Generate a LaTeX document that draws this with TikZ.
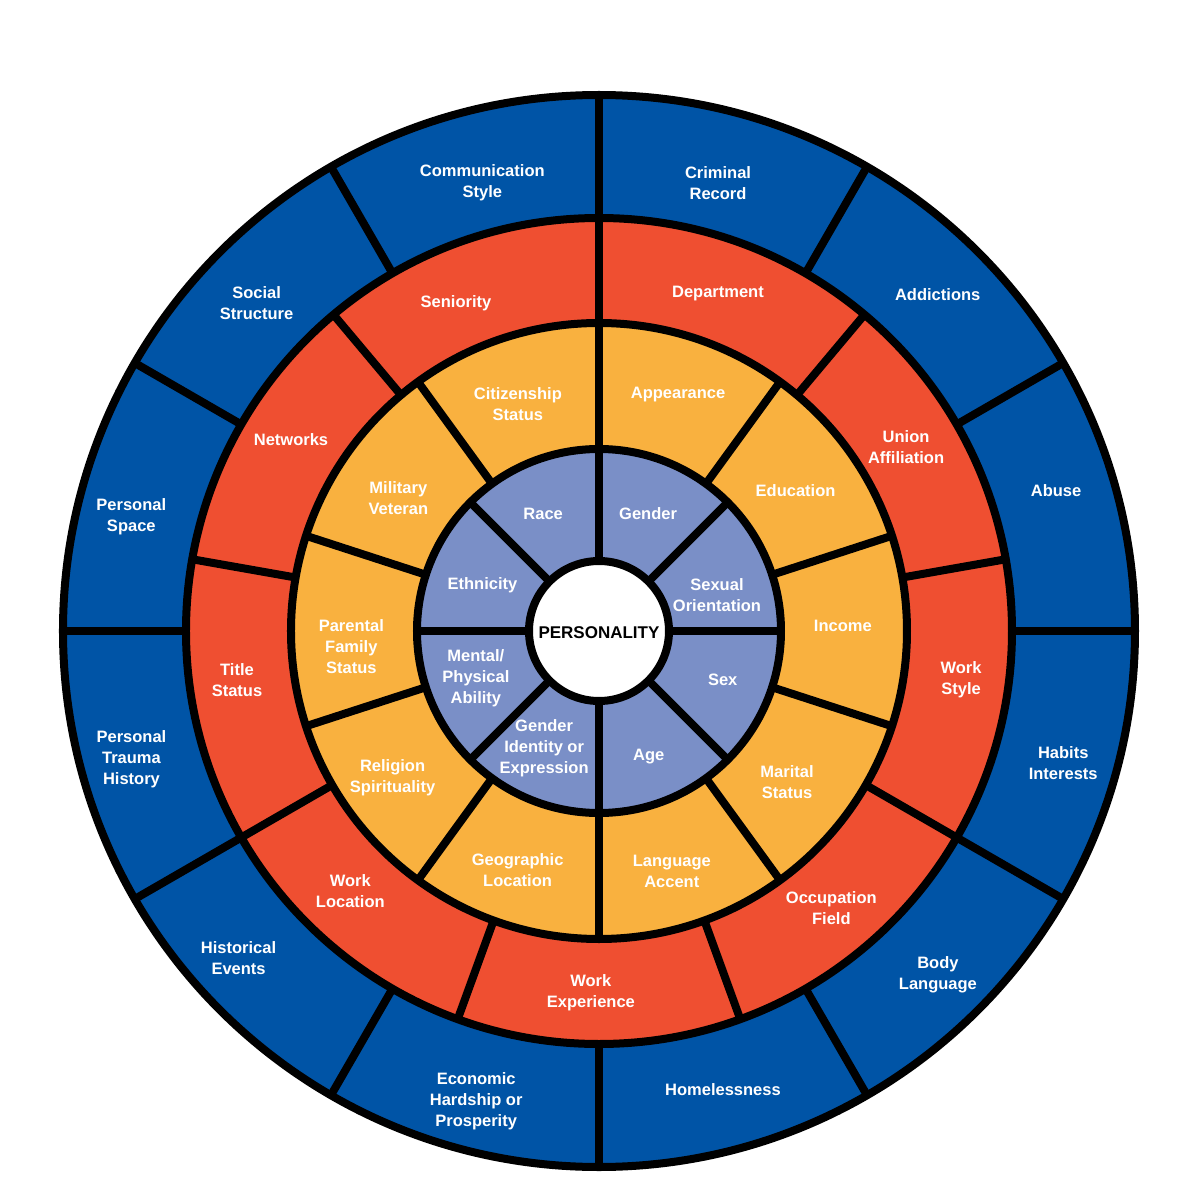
\documentclass[tikz,border=0pt]{standalone}
\usepackage{fontspec}
\setmainfont{Liberation Sans}
\definecolor{wheelblue}{RGB}{0,84,166}
\definecolor{wheelred}{RGB}{239,79,49}
\definecolor{wheelyellow}{RGB}{249,177,63}
\definecolor{wheelpurple}{RGB}{122,143,199}

\begin{document}
\begin{tikzpicture}[x=1pt, y=1pt, line width=8pt,
    every node/.style={font=\bfseries\fontsize{16.5}{21}\selectfont, text=white, align=center, inner sep=0pt, yshift=-2.5pt}]
        \useasboundingbox (-599,-569) rectangle (601,631);
        % rings
        \filldraw[fill=wheelblue] (0,0) circle (536);
        \filldraw[fill=wheelred] (0,0) circle (413);
        \filldraw[fill=wheelyellow] (0,0) circle (308);
        \filldraw[fill=wheelpurple] (0,0) circle (182);
        % dividers
        \foreach \a in {0,30,...,330} \draw (\a:413) -- (\a:536);
        \foreach \a in {10,50,...,330} \draw (\a:308) -- (\a:413);
        \foreach \a in {18,54,...,342} \draw (\a:182) -- (\a:308);
        \foreach \a in {0,45,...,315} \draw (0,0) -- (\a:182);
        \filldraw[fill=white] (0,0) circle (70);
        \node[text=black, font=\bfseries\fontsize{17}{21}\selectfont, yshift=1pt] (personality) at (0,0) {PERSONALITY};
        % outer ring
        \node (comm) at (104.5:466) {Communication\\Style};
        \node (crime) at (75.2:466) {Criminal\\Record};
        \node (addict) at (45:479) {Addictions};
        \node (abuse) at (17.4:479) {Abuse};
        \node (habits) at (-15.6:482) {Habits\\Interests};
        \node (body) at (-45.2:481) {Body\\Language};
        \node (homeless) at (-74.8:473) {Homelessness};
        \node (economic) at (-104.7:484) {Economic\\Hardship or\\Prosperity};
        \node (history) at (-138:485) {Historical\\Events};
        \node (trauma) at (-165:484) {Personal\\Trauma\\History};
        \node (space) at (166:482) {Personal\\Space};
        \node (social) at (136:476) {Social\\Structure};
        % work ring
        \node (senior) at (113.4:360) {Seniority};
        \node (dept) at (70.7:360) {Department};
        \node (union) at (31.2:359) {Union\\Affiliation};
        \node (workstyle) at (-7.2:365) {Work\\Style};
        \node (occupation) at (-49.8:360) {Occupation\\Field};
        \node (workexp) at (-91.3:359) {Work\\Experience};
        \node (workloc) at (-134:358) {Work\\Location};
        \node (title) at (-172.7:365) {Title\\Status};
        \node (networks) at (147.8:364) {Networks};
        % external ring
        \node (citizen) at (109.5:243) {Citizenship\\Status};
        \node (appear) at (71.7:252) {Appearance};
        \node (edu) at (36:243) {Education};
        \node (income) at (1.9:244) {Income};
        \node (marital) at (-38.4:240) {Marital\\Status};
        \node (lang) at (-73:249) {Language\\Accent};
        \node (geo) at (-109:250) {Geographic\\Location};
        \node (relig) at (-145:252) {Religion\\Spirituality};
        \node (parental) at (-177:248) {Parental\\Family\\Status};
        \node (military) at (146:242) {Military\\Veteran};
        % internal ring
        \node (race) at (115:132) {Race};
        \node (gender) at (67.8:130) {Gender};
        \node (sexor) at (17.9:124) {Sexual\\Orientation};
        \node (sex) at (-20.4:132) {Sex};
        \node (age) at (-68:133) {Age};
        \node (genid) at (-115.6:127) {Gender\\Identity or\\Expression};
        \node (mental) at (-160:131) {Mental/\\Physical\\Ability};
        \node (ethnic) at (157.7:126) {Ethnicity};
      \end{tikzpicture}
\end{document}
